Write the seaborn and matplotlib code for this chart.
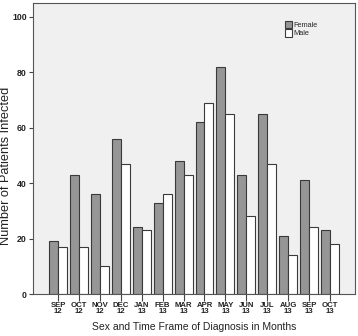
import pandas as pd
import seaborn as sns
import matplotlib.pyplot as plt

# -----------------------------------
# Data
# -----------------------------------

months = ["SEP\n12", "OCT\n12", "NOV\n12", "DEC\n12", "JAN\n13", "FEB\n13", "MAR\n13",
          "APR\n13", "MAY\n13", "JUN\n13", "JUL\n13", "AUG\n13", "SEP\n13", "OCT\n13"]
female = [19, 43, 36, 56, 24, 33, 48, 62, 82, 43, 65, 21, 41, 23]
male = [17, 17, 10, 47, 23, 36, 43, 69, 65, 28, 47, 14, 24, 18]
y_ticks = [0, 20, 40, 60, 80, 100]

data = pd.DataFrame({
    "month": months * 2,
    "count": female + male,
    "sex": ["Female"] * len(months) + ["Male"] * len(months),
})

# -----------------------------------
# Style
# -----------------------------------

sns.set_theme(style="white")
plt.rcParams["font.family"] = ["Liberation Sans", "DejaVu Sans"]

fig = plt.figure(figsize=(3.58, 3.36), dpi=100)
ax = fig.add_axes([0.092, 0.125, 0.9, 0.866])
ax.set_facecolor("#f0f0f0")

sns.barplot(
    data=data,
    x="month",
    y="count",
    hue="sex",
    order=months,
    hue_order=["Female", "Male"],
    palette={"Female": "#969696", "Male": "#ffffff"},
    width=0.86,
    edgecolor="#3a3a3a",
    linewidth=0.8,
    ax=ax,
)

# -----------------------------------
# Axes
# -----------------------------------

ax.set_xlim(-1.2, len(months) - 1 + 1.2)
ax.set_ylim(0, 105)
ax.set_yticks(y_ticks)

ax.set_xlabel("Sex and Time Frame of Diagnosis in Months", fontsize=7.5, color="#222222", labelpad=5)
ax.set_ylabel("Number of Patients Infected", fontsize=9.2, color="#222222")
ax.yaxis.set_label_coords(-0.066, 0.44)

ax.tick_params(axis="x", direction="out", length=5, width=0.8, color="#444444",
               bottom=True, pad=0.5)
ax.tick_params(axis="y", direction="out", length=3, width=0.8, color="#444444",
               left=True, pad=1.5)
for lab in ax.get_xticklabels():
    lab.set_fontsize(5.6)
    lab.set_fontweight("bold")
    lab.set_linespacing(0.8)
    lab.set_color("#222222")
for lab in ax.get_yticklabels():
    lab.set_fontsize(6.3)
    lab.set_fontweight("bold")
    lab.set_color("#222222")

for spine in ax.spines.values():
    spine.set_visible(True)
    spine.set_color("#555555")
    spine.set_linewidth(0.8)

# -----------------------------------
# Legend
# -----------------------------------

ax.legend(
    title=None,
    loc="upper left",
    bbox_to_anchor=(0.77, 0.952),
    frameon=False,
    fontsize=5.3,
    handlelength=1.0,
    handleheight=1.1,
    handletextpad=0.15,
    labelspacing=0.1,
    borderpad=0,
)

fig.savefig("out.png", dpi=100, facecolor="white")
